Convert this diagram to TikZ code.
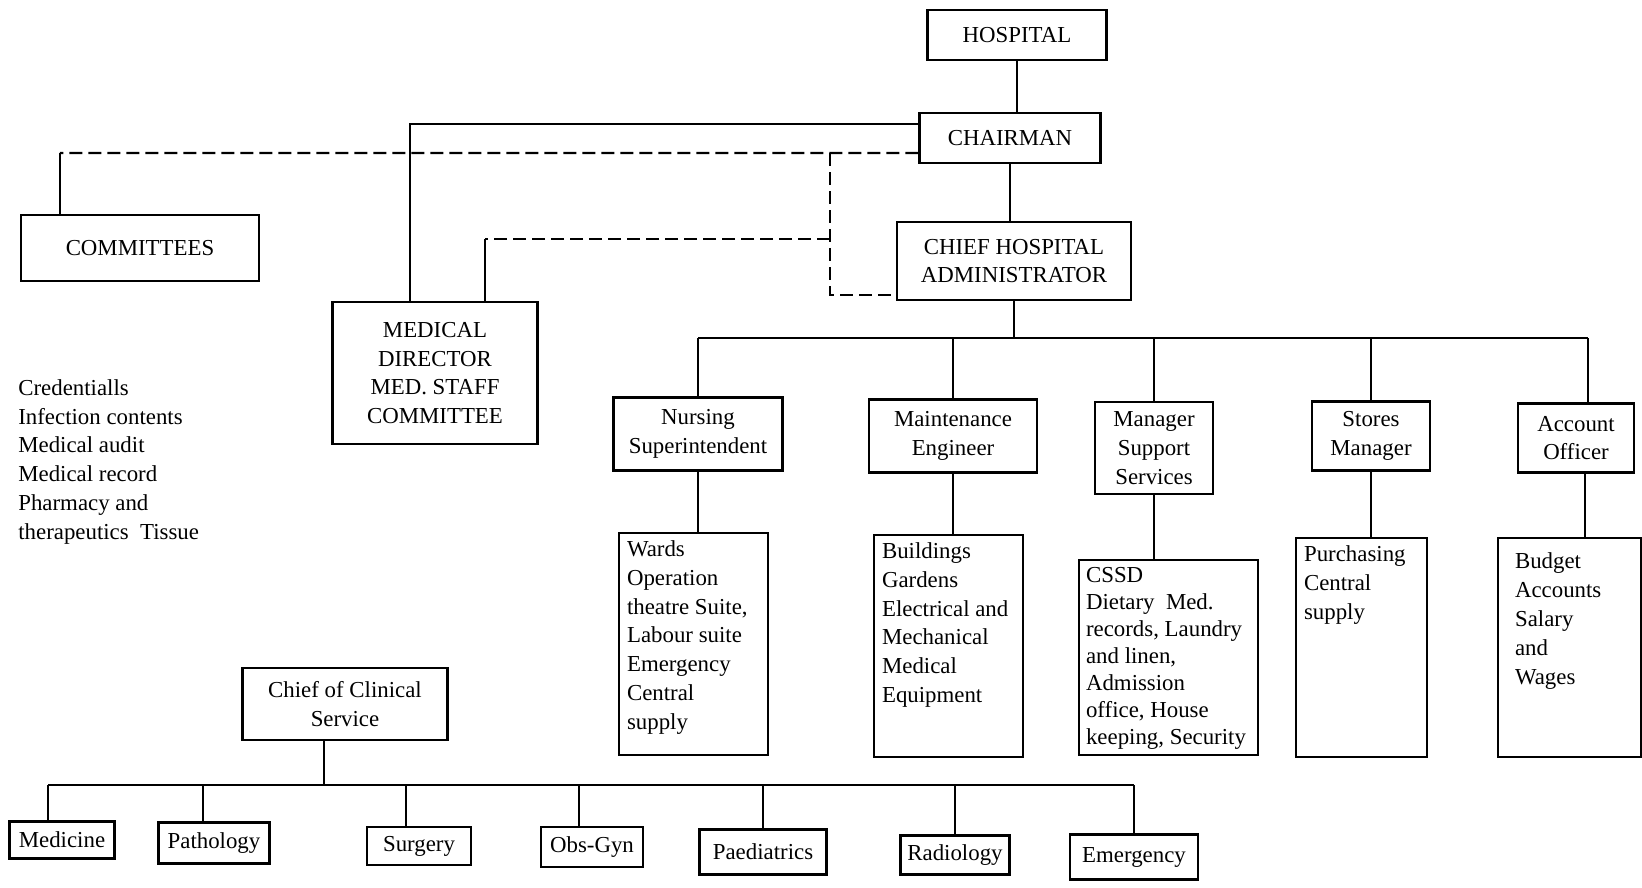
\documentclass[tikz,border=0pt]{standalone}
\usepackage{fontspec}
\setmainfont{Liberation Serif}
\usetikzlibrary{positioning}

\newcommand{\boxlist}[3]{\parbox[t][#2][t]{#1}{\raggedright #3}}

\begin{document}
\begin{tikzpicture}[
  x=0.2mm, y=-0.2mm,
  font={\fontsize{13}{16.4}\selectfont},
  unit/.style={
    rectangle, draw, line width=1.2pt,
    align=center, inner sep=1pt
  },
  listbox/.style={
    rectangle, draw, line width=1.2pt, anchor=north west,
    inner xsep=1.6mm, inner ysep=1.5mm
  },
  note/.style={align=left, inner sep=0pt, anchor=north west},
  link/.style={line width=0.9pt},
  bus/.style={line width=1.3pt},
  dashline/.style={line width=1.2pt, dash pattern=on 2.6mm off 1.2mm},
]
\useasboundingbox (0,0) rectangle (1642,887);

% Top of the hierarchy
\node[unit, minimum width=35.8mm, minimum height=10mm]   (hospital)   at (1017,35)  {HOSPITAL};
\node[unit, minimum width=36.2mm, minimum height=10mm]   (chairman)   at (1010,138) {CHAIRMAN};
\node[unit, minimum width=46.8mm, minimum height=15.6mm] (cha)        at (1014,261) {CHIEF HOSPITAL\\ADMINISTRATOR};
\node[unit, minimum width=47.6mm, minimum height=13.2mm] (committees) at (140,248)  {COMMITTEES};
\node[unit, minimum width=41mm,   minimum height=28.4mm] (meddir)     at (435,373)  {MEDICAL\\DIRECTOR\\MED. STAFF\\COMMITTEE};
\node[note] (credlist) at (18,379) {Credentialls\\Infection contents\\Medical audit\\Medical record\\Pharmacy and\\therapeutics\ \ Tissue};

% Department heads under the administrator
\node[unit, minimum width=33.8mm, minimum height=14.6mm] (nursing) at (698,434)  {Nursing\\Superintendent};
\node[unit, minimum width=33.6mm, minimum height=14.6mm] (maint)   at (953,436)  {Maintenance\\Engineer};
\node[unit, minimum width=23.6mm, minimum height=18.4mm] (mss)     at (1154,448) {Manager\\Support\\Services};
\node[unit, minimum width=23.6mm, minimum height=13.8mm] (stores)  at (1371,436) {Stores\\Manager};
\node[unit, minimum width=23.2mm, minimum height=13.8mm] (account) at (1576,438) {Account\\Officer};

% Duty lists
\node[listbox] (wards)      at (618,532)  {\boxlist{26.6mm}{41.4mm}{Wards\\Operation\\theatre Suite,\\Labour suite\\Emergency\\Central\\supply}};
\node[listbox] (buildings)  at (873,534)  {\boxlist{26.6mm}{41.4mm}{Buildings\\Gardens\\Electrical and\\Mechanical\\Medical\\Equipment}};
\node[listbox, inner xsep=1.4mm] (cssd) at (1078,559) {\fontsize{13}{15.3}\selectfont\boxlist{33mm}{36mm}{CSSD\\Dietary\ \ Med.\\records, Laundry\\and linen,\\Admission\\office, House\\keeping, Security}};
\node[listbox] (purchasing) at (1295,537) {\boxlist{23mm}{40.8mm}{Purchasing\\Central\\supply}};
\node[listbox, inner xsep=3.4mm, inner ysep=3mm] (budget) at (1497,537) {\boxlist{21.8mm}{37.8mm}{Budget\\Accounts\\Salary\\and\\Wages}};

% Clinical services
\node[unit, minimum width=41mm,   minimum height=14.4mm] (chief)     at (345,704)  {Chief of Clinical\\Service};
\node[unit, minimum width=21mm,   minimum height=7.4mm]  (medicine)  at (62,840)   {Medicine};
\node[unit, minimum width=22.2mm, minimum height=8.2mm]  (pathology) at (214,843)  {Pathology};
\node[unit, minimum width=20.8mm, minimum height=7.6mm]  (surgery)   at (419,846)  {Surgery};
\node[unit, minimum width=20.4mm, minimum height=8mm]    (obsgyn)    at (592,847)  {Obs-Gyn};
\node[unit, minimum width=25.4mm, minimum height=9mm]    (paed)      at (763,852)  {Paediatrics};
\node[unit, minimum width=21.8mm, minimum height=7.8mm]  (radiology) at (955,855)  {Radiology};
\node[unit, minimum width=25.6mm, minimum height=9mm]    (emergency) at (1134,857) {Emergency};

% Solid reporting lines
\draw[link] (hospital.south) -- (hospital.south |- chairman.north);
\draw[link] (chairman.south) -- (chairman.south |- cha.north);
\coordinate (mdsolid) at ([xshift=-5mm]meddir.north);
\draw[bus] ([yshift=2.8mm]chairman.west) -| (mdsolid);

\coordinate (topbus) at (cha.south |- 0,338);
\coordinate (acctop) at ([xshift=2.4mm]account.north);
\draw[link] (cha.south) -- (topbus);
\draw[bus] (nursing.north |- topbus) -- (acctop |- topbus);
\foreach \n in {nursing,maint,mss,stores}
  \draw[link] (\n.north) -- (\n.north |- topbus);
\draw[link] (acctop) -- (acctop |- topbus);
\foreach \a/\b in {nursing/wards,maint/buildings,mss/cssd,stores/purchasing}
  \draw[link] (\a.south) -- (\a.south |- \b.north);
\draw[link] ([xshift=1.8mm]account.south) -- ([xshift=1.8mm]account.south |- budget.north);

\coordinate (chiefbot) at ([xshift=-4.2mm]chief.south);
\coordinate (lowbus) at (chiefbot |- 0,785);
\coordinate (medtop) at ([xshift=-2.8mm]medicine.north);
\coordinate (pathtop) at ([xshift=-2.2mm]pathology.north);
\coordinate (surgtop) at ([xshift=-2.6mm]surgery.north);
\coordinate (obstop) at ([xshift=-2.6mm]obsgyn.north);
\draw[link] (chiefbot) -- (lowbus);
\draw[bus] (medtop |- lowbus) -- (emergency.north |- lowbus);
\foreach \n in {medtop,pathtop,surgtop,obstop,paed.north,radiology.north,emergency.north}
  \draw[link] (\n) -- (\n |- lowbus);

% Advisory (dashed) lines
\coordinate (dj)      at (830,153);
\coordinate (dm)      at (830,239);
\coordinate (cmtop)   at ([xshift=8mm]committees.north west);
\coordinate (mddash)  at ([xshift=10mm]meddir.north);
\coordinate (chabot)  at ([yshift=-6.8mm]cha.west);
\draw[dashline] ([yshift=-3mm]chairman.west) -- (cmtop |- dj);
\draw[link] (cmtop |- dj) -- (cmtop);
\draw[dashline] (dj) -- (dj |- chabot) -- (chabot);
\draw[dashline] (dm) -- (dm -| mddash);
\draw[link] (dm -| mddash) -- (mddash);

\end{tikzpicture}
\end{document}
